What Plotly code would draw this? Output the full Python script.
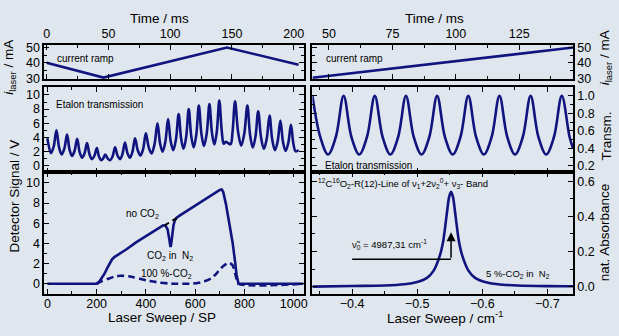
import plotly.graph_objects as go

FONT = "Liberation Sans, Arial, sans-serif"
NAVY = "#10147f"

# ---------------- data ----------------
# current ramp (left: full cycle, right: rising part)
ramp_time = [0, 46, 146, 204]
ramp_current = [40.0, 30.5, 49.8, 38.8]
ramp_r_time = [43.5, 146.2]
ramp_r_current = [30.4, 49.8]

# etalon transmission vs. laser sweep (SP): peaks, flanks and valleys as read
etalon_sp = [0, 15, 26, 37, 47.5, 58, 69, 80, 90, 100, 110.5, 121, 131, 141, 151, 161,
             171, 181, 191, 201, 209.5, 218, 226.5, 235, 245, 255, 265, 275, 285, 295, 305,
             315, 325, 335, 345.5, 356, 367, 378, 389, 400, 411.5, 423, 435, 447, 457.5,
             468, 479, 490, 500.5, 511, 522, 533, 543, 553, 563.5, 574, 584, 594, 604.5,
             615, 625.5, 636, 647, 658, 668, 678, 688, 698, 708, 716, 724, 734, 744, 752,
             762, 774.5, 787, 799.5, 812, 823, 834, 845, 856, 867.5, 879, 890.5, 902,
             913, 924, 935, 946, 956.5, 967, 978, 989, 998.5, 1008, 1020]
etalon_v = [3.9, 1.8, 2.76, 5.0, 2.62, 1.6, 2.44, 4.4, 2.3, 1.4, 2.12, 3.8, 1.95, 1.15, 1.77, 3.2,
            1.63, 0.95, 1.42, 2.5, 1.31, 0.8, 1.04, 1.6, 1.04, 0.8, 1.34, 2.6, 1.45, 0.95, 1.66,
            3.3, 1.8, 1.15, 1.98, 3.9, 2.19, 1.45, 2.4, 4.6, 2.61, 1.75, 3.03, 6.0, 3.2,
            2.0, 3.38, 6.6, 3.52, 2.2, 3.73, 7.3, 3.87, 2.4, 4.08, 8.0, 4.22, 2.6, 4.37,
            8.5, 4.51, 2.8, 4.57, 8.7, 4.71, 3.0, 4.86, 9.2, 4.9, 3.1, 3.4, 3.2, 3.05, 4.87,
            9.1, 4.73, 2.85, 4.55, 8.5, 4.37, 2.6, 4.13, 7.7, 3.99, 2.4, 3.81, 7.1,
            3.67, 2.2, 3.46, 6.4, 3.39, 2.1, 3.21, 5.8, 3.18, 2.05, 2.25]

# etalon transmission vs. wavenumber (right)
etalon_r_x = [-0.339, -0.3510, -0.3630, -0.3749, -0.3869, -0.3989, -0.4109, -0.4228,
              -0.4348, -0.4468, -0.4588, -0.4707, -0.4827, -0.4947, -0.5067, -0.5186,
              -0.5306, -0.5426, -0.5546, -0.5665, -0.5785, -0.5905, -0.6025, -0.6144,
              -0.6264, -0.6384, -0.6504, -0.6623, -0.6743, -0.6863, -0.6983, -0.7102,
              -0.7222, -0.7342, -0.7395]
etalon_r_t = [1.0, 0.53, 0.33, 0.53, 1.0, 0.53, 0.33, 0.53,
              1.0, 0.53, 0.33, 0.53, 1.0, 0.53, 0.33, 0.53,
              1.0, 0.53, 0.33, 0.53, 1.0, 0.53, 0.33, 0.53,
              1.0, 0.53, 0.33, 0.53, 1.0, 0.53, 0.33, 0.53,
              1.0, 0.53, 0.40]

# detector signal: CO2 in N2 (solid)
det_sp = [0, 200, 212, 222, 232, 242, 252, 262, 272, 282, 320, 360, 400, 440, 456, 470, 480,
          488, 493, 497, 500, 503, 507, 512, 518, 525, 540, 600, 650, 690, 700, 708, 714,
          725, 738, 752, 762, 768, 776, 1040]
det_sig = [0, 0, 0.25, 0.6, 1.0, 1.5, 2.0, 2.4, 2.65, 2.8, 3.4, 4.1, 4.75, 5.4, 5.65, 5.8, 5.75,
           5.4, 4.7, 3.9, 3.65, 4.0, 4.9, 5.8, 6.3, 6.55, 6.8, 7.75, 8.55, 9.2, 9.3, 9.35, 9.1,
           7.9, 6.2, 4.1, 2.2, 0.9, 0.0, 0]
# no CO2 (black dashed, visible around the absorption dip)
noco2_sp = [476, 490, 500, 510, 520, 532]
noco2_sig = [5.8, 6.0, 6.15, 6.3, 6.45, 6.6]
# 100 %-CO2 (dashed)
pure_sp = [200, 220, 242, 270, 296, 330, 349, 375, 402, 430, 456, 490, 520, 590, 615, 644,
           665, 684, 705, 725, 738, 752, 765, 776, 1040]
pure_sig = [0, 0.25, 0.45, 0.7, 0.8, 0.75, 0.65, 0.5, 0.35, 0.22, 0.12, 0.04, 0.0, 0.02, 0.1, 0.3,
            0.55, 0.95, 1.55, 1.95, 2.1, 1.85, 0.8, 0.0, 0]

# absorbance line (right bottom)
abs_x = [-0.339, -0.40, -0.45, -0.48, -0.50, -0.515, -0.525, -0.535, -0.540, -0.545, -0.549,
         -0.552, -0.555, -0.559, -0.564, -0.569, -0.579, -0.589, -0.604, -0.624, -0.654,
         -0.70, -0.7395]
abs_y = [0.0, 0.004, 0.007, 0.014, 0.027, 0.05, 0.09, 0.18, 0.26, 0.40, 0.51,
         0.54, 0.51, 0.40, 0.26, 0.18, 0.09, 0.05, 0.027, 0.014, 0.007,
         0.003, 0.002]
line_center = -0.552

# ---------------- figure ----------------
W, H = 619, 336
def px(x):
    return x / W
def py(y):
    return 1 - y / H

LD = [px(43.5), px(305)]
RD = [px(314), px(576.7)]
P1 = [py(77.7), py(42.3)]
P2 = [py(174), py(86)]
P3 = [py(299.5), py(174)]

fig = go.Figure()
lw = 2.6
fig.add_trace(go.Scatter(x=ramp_time, y=ramp_current, mode="lines",
                         line=dict(color=NAVY, width=lw), xaxis="x", yaxis="y"))
fig.add_trace(go.Scatter(x=etalon_sp, y=etalon_v, mode="lines",
                         line=dict(color=NAVY, width=lw, shape="spline", smoothing=1),
                         xaxis="x2", yaxis="y2"))
fig.add_trace(go.Scatter(x=pure_sp, y=pure_sig, mode="lines",
                         line=dict(color=NAVY, width=lw, dash="7px,4px", shape="spline", smoothing=0.6),
                         xaxis="x3", yaxis="y3"))
fig.add_trace(go.Scatter(x=det_sp, y=det_sig, mode="lines",
                         line=dict(color=NAVY, width=lw), xaxis="x3", yaxis="y3"))
fig.add_trace(go.Scatter(x=noco2_sp, y=noco2_sig, mode="lines",
                         line=dict(color="black", width=2, dash="5px,4px"),
                         xaxis="x3", yaxis="y3"))
fig.add_trace(go.Scatter(x=ramp_r_time, y=ramp_r_current, mode="lines",
                         line=dict(color=NAVY, width=lw), xaxis="x4", yaxis="y4"))
fig.add_trace(go.Scatter(x=etalon_r_x, y=etalon_r_t, mode="lines",
                         line=dict(color=NAVY, width=lw, shape="spline", smoothing=1),
                         xaxis="x5", yaxis="y5"))
fig.add_trace(go.Scatter(x=abs_x, y=abs_y, mode="lines",
                         line=dict(color=NAVY, width=lw, shape="spline", smoothing=0.8),
                         xaxis="x6", yaxis="y6"))

def axis(domain, rng, dtick, minor, anchor, labels=True, side=None, fmt=None, standoff=None):
    d = dict(domain=domain, range=rng, dtick=dtick, tick0=0, anchor=anchor,
             showline=True, linecolor="black", linewidth=1.6, mirror="ticks",
             ticks="inside", ticklen=5, tickwidth=1.3, tickcolor="black",
             showgrid=False, zeroline=False, showticklabels=labels,
             tickfont=dict(size=12.5, color="black", family=FONT),
             minor=dict(dtick=minor, tick0=0, ticks="inside", ticklen=3,
                        tickwidth=1.2, tickcolor="black", showgrid=False))
    if side:
        d["side"] = side
    if fmt:
        d["tickformat"] = fmt
    if standoff is not None:
        d["ticklabelstandoff"] = standoff
    return d

fig.update_layout(
    width=W, height=H, margin=dict(l=0, r=0, t=0, b=0), autosize=False,
    paper_bgcolor="#dfe6ed", plot_bgcolor="rgba(0,0,0,0)", showlegend=False,
    hovermode=False,
    xaxis=axis(LD, [-2, 208], 50, 25, "y", side="top"),
    yaxis=axis(P1, [29.5, 51.5], 10, 5, "x"),
    xaxis2=axis(LD, [-13, 1040], 200, 100, "y2", labels=False),
    yaxis2=axis(P2, [-0.91, 11.09], 2, 1, "x2"),
    xaxis3=axis(LD, [-13, 1040], 200, 100, "y3", standoff=-2),
    yaxis3=axis(P3, [-0.98, 11.05], 2, 1, "x3"),
    xaxis4=axis(RD, [43.5, 146.2], 25, 12.5, "y4", side="top"),
    yaxis4=axis(P1, [29.5, 51.5], 10, 5, "x4", side="right"),
    xaxis5=axis(RD, [-0.339, -0.7395], 0.1, 0.05, "y5", labels=False),
    yaxis5=axis(P2, [0.126, 1.1], 0.2, 0.1, "x5", side="right", fmt=".1f"),
    xaxis6=axis(RD, [-0.339, -0.7395], 0.1, 0.05, "y6", fmt=".1f", standoff=-2),
    yaxis6=axis(P3, [-0.04, 0.651], 0.2, 0.1, "x6", side="right", fmt=".1f"),
)

def note(text, x, y, size=10, xanchor="center", angle=0, xref="paper", yref="paper"):
    fig.add_annotation(text=text, x=x, y=y, xref=xref, yref=yref, showarrow=False,
                       xanchor=xanchor, yanchor="middle", textangle=angle,
                       font=dict(size=size, color="black", family=FONT))

# axis titles
note("Time / ms", px(160), py(15), 13.5)
note("Time / ms", px(437), py(15), 13.5)
note("Laser Sweep / SP", px(162), py(324), 13.5)
note("Laser Sweep / cm<sup>-1</sup>", px(448), py(323.5), 13.5)
note("<i>i</i><sub>laser</sub> / mA", px(9), py(65), 13.5, angle=-90)
note("Detector Signal / V", px(14), py(198), 13.5, angle=-90)
note("<i>i</i><sub>laser</sub> / mA", px(609), py(56), 13.5, angle=-90)
note("Transm.", px(610), py(137), 13.5, angle=-90)
note("nat. Absorbance", px(608), py(236), 13.5, angle=-90)

# in-panel labels
note("current ramp", px(54), py(56), 10, xanchor="left")
note("current ramp", px(326), py(56), 10, xanchor="left")
note("Etalon transmission", px(53), py(104), 10, xanchor="left")
note("Etalon transmission", px(325), py(167), 10, xanchor="left")
note("no CO<sub>2</sub>", px(143), py(217), 10)
note("CO<sub>2</sub> in  N<sub>2</sub>", px(170), py(261), 10)
note("100 %-CO<sub>2</sub>", px(167), py(279), 10)
note("<sup>12</sup>C<sup>16</sup>O<sub>2</sub>-R(12)-Line of ν<sub>1</sub>+2ν<sub>2</sub><sup>0</sup>+ ν<sub>3</sub>- Band",
     px(318), py(186), 9.5, xanchor="left")
note("ν\u0303<sub>0</sub> = 4987,31 cm<sup>-1</sup>", px(352), py(249), 9.5, xanchor="left")
note("5 %-CO<sub>2</sub> in  N<sub>2</sub>", px(521), py(279), 9.5)

# line-centre marker
fig.add_shape(type="line", xref="x6", yref="y6", x0=-0.40, x1=line_center,
              y0=0.156, y1=0.156, line=dict(color="black", width=1.5))
fig.add_annotation(x=line_center, y=0.31, ax=line_center, ay=0.156, xref="x6", yref="y6",
                   axref="x6", ayref="y6", showarrow=True, arrowhead=2, arrowsize=1.2,
                   arrowwidth=1.5, arrowcolor="black", text="")

fig.write_html("out.html")
